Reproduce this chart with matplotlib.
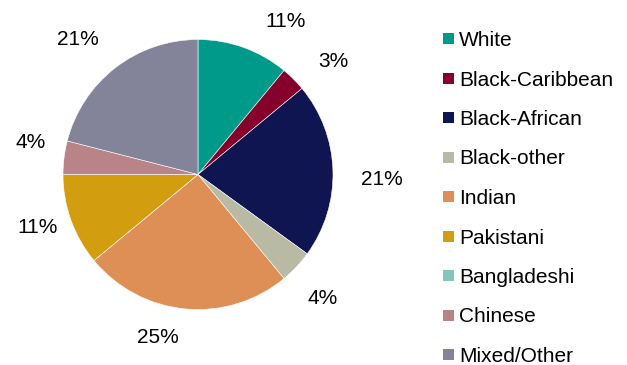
import matplotlib.pyplot as plt
from matplotlib.patches import Rectangle

plt.rcParams['font.family'] = ['Liberation Sans', 'DejaVu Sans']

# Доли этнических групп, %
groups = ['White', 'Black-Caribbean', 'Black-African', 'Black-other', 'Indian',
          'Pakistani', 'Bangladeshi', 'Chinese', 'Mixed/Other']
shares = [11, 3, 21, 4, 25, 11, 0, 4, 21]
colors = ['#009a8a', '#85002a', '#0e1551', '#b9baa4', '#de8f55',
          '#d39d10', '#84c6b9', '#b98488', '#83839a']

# Положение подписей относительно центра круга (в радиусах)
label_pos = [(0.65, 1.13), (1.0, 0.84), (1.36, -0.04), (0.92, -0.92),
             (-0.30, -1.21), (-1.19, -0.39), (-1.24, 0.24), (-0.89, 1.0), ]

W, H = 627, 365
fig = plt.figure(figsize=(W / 100, H / 100), dpi=100)

# Ось под круг: центр (198, 175), радиус 135 px
cx, cy, r = 198, 174.5, 135
ax = fig.add_axes([(cx - r) / W, (H - cy - r) / H, 2 * r / W, 2 * r / H])

wedges, _ = ax.pie(shares, colors=colors, startangle=90, counterclock=False,
                   wedgeprops=dict(edgecolor='white', linewidth=0.4))
ax.set_xlim(-1, 1)
ax.set_ylim(-1, 1)
ax.set_aspect('equal')
ax.axis('off')

fs = 15

# Подписи процентов (нулевые доли не подписываем)
k = 0
for val in shares:
    if val == 0:
        continue
    x, y = label_pos[k]
    ax.text(x, y, f'{val}%', ha='center', va='center', fontsize=fs,
            color='black', clip_on=False)
    k += 1

# Легенда справа
x0, y0, step, sq = 443, 38.5, 39.5, 11
for i, (name, c) in enumerate(zip(groups, colors)):
    yc = y0 + i * step
    fig.patches.append(Rectangle((x0 / W, (H - yc - sq / 2) / H), sq / W, sq / H,
                                 transform=fig.transFigure, facecolor=c,
                                 edgecolor='none'))
    fig.text((x0 + 16) / W, (H - yc) / H, name, ha='left', va='center_baseline',
             fontsize=fs, color='black')

fig.savefig('out.png', dpi=100)
